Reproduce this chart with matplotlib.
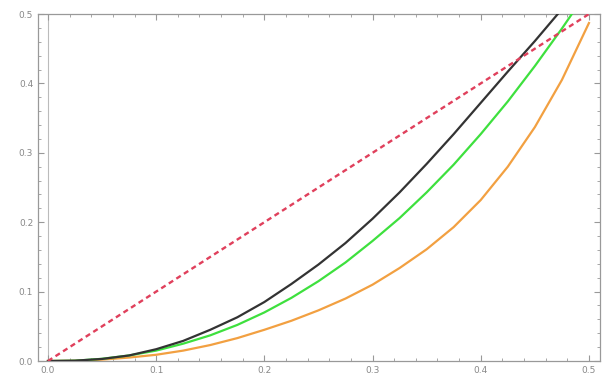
import matplotlib.pyplot as plt
from matplotlib.ticker import MultipleLocator

# sample positions
x = [0.0, 0.025, 0.05, 0.075, 0.1, 0.125, 0.15, 0.175, 0.2, 0.225, 0.25,
     0.275, 0.3, 0.325, 0.35, 0.375, 0.4, 0.425, 0.45, 0.475, 0.5]

black_y = [0.0, 0.0005, 0.003, 0.008, 0.017, 0.029, 0.045, 0.063, 0.085, 0.111, 0.139,
           0.170, 0.205, 0.243, 0.284, 0.327, 0.372, 0.417, 0.461, 0.507, 0.555]
green_y = [0.0, 0.0004, 0.0032, 0.008, 0.015, 0.025, 0.037, 0.052, 0.070, 0.091, 0.115,
           0.142, 0.173, 0.206, 0.243, 0.283, 0.327, 0.374, 0.425, 0.479, 0.536]
orange_y = [0.0, 0.0003, 0.002, 0.005, 0.009, 0.015, 0.023, 0.033, 0.045, 0.058, 0.073,
            0.090, 0.110, 0.134, 0.161, 0.193, 0.232, 0.280, 0.337, 0.405, 0.487]

diag_x = [0.0, 0.5]
diag_y = [0.0, 0.5]

ticks = [0.0, 0.1, 0.2, 0.3, 0.4, 0.5]

fig = plt.figure(figsize=(6.05, 3.85), dpi=100)
ax = fig.add_axes([0.0628, 0.0623, 0.9289, 0.9013])

# thin origin line like Mathematica draws
ax.axvline(0, color='#bbbbbb', lw=0.8, zorder=1)

ax.plot(x, orange_y, color='#f2a041', lw=1.6, zorder=3)
ax.plot(x, green_y, color='#3ee03e', lw=1.6, zorder=3)
ax.plot(x, black_y, color='#333333', lw=1.6, zorder=3)
ax.plot(diag_x, diag_y, color='#e0405c', lw=1.7, linestyle=(0, (2.2, 1.6)), zorder=4)

ax.set_xlim(-0.0092, 0.5102)
ax.set_ylim(0, 0.5)

ax.set_xticks(ticks)
ax.set_yticks(ticks)
ax.set_xticklabels(['%.1f' % t for t in ticks])
ax.set_yticklabels(['%.1f' % t for t in ticks])
ax.xaxis.set_minor_locator(MultipleLocator(0.02))
ax.yaxis.set_minor_locator(MultipleLocator(0.02))

ax.tick_params(which='both', direction='in', top=True, right=True,
               color='#999999', labelcolor='#888888', labelsize=6.5)
ax.tick_params(which='major', length=4, width=0.8)
ax.tick_params(which='minor', length=2, width=0.6)

for s in ax.spines.values():
    s.set_color('#999999')
    s.set_linewidth(0.9)

fig.savefig('out.png', dpi=100)
